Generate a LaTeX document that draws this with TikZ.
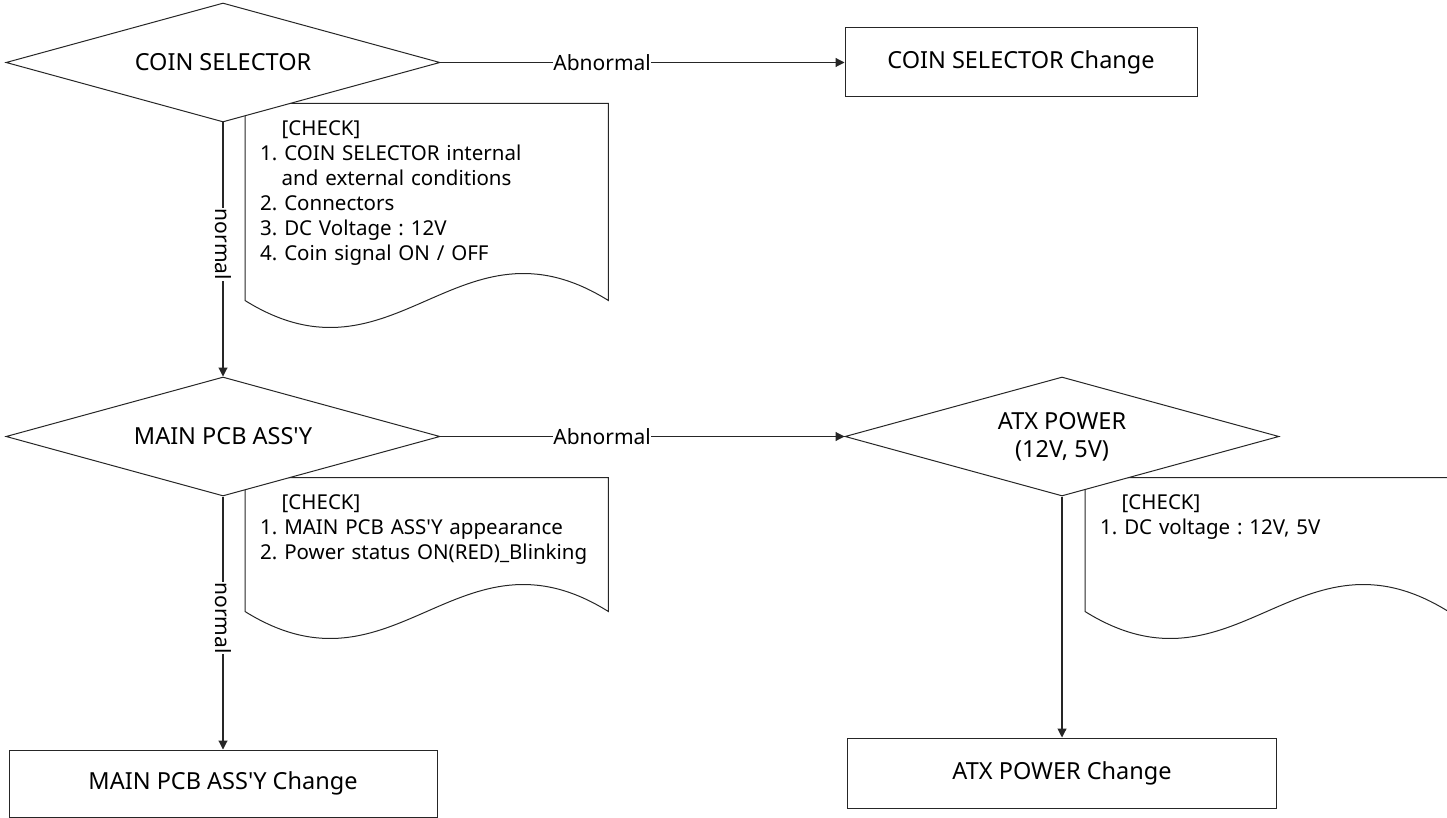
\documentclass[tikz,border=0pt]{standalone}
\usepackage{fontspec}
\setmainfont{Noto Sans}
\usetikzlibrary{shapes.geometric, arrows.meta, positioning, backgrounds}

% outline of a check sheet: node name, side height
\newcommand{\docoutline}[2]{%
  \draw[docline] (#1.north west) -- (#1.north east)
    -- ([yshift=-#2]#1.north east)
    .. controls +(-150pt,93.5pt) and +(150pt,-93.5pt) .. ([yshift=-#2]#1.north west)
    -- cycle;}
\newcommand{\apos}{\textquotesingle}

\begin{document}
\frenchspacing
\begin{tikzpicture}[
  x=1pt, y=1pt,
  decision/.style={diamond, draw=black!85, line width=1pt, fill=white,
                   shape aspect=3.65, minimum width=434pt, minimum height=119pt,
                   inner sep=0pt, align=center, font=\fontsize{23.5}{28}\selectfont},
  chgbox/.style={rectangle, draw=black!85, line width=1pt, fill=white,
                 minimum width=352pt, minimum height=69pt,
                 font=\fontsize{23.5}{28}\selectfont},
  checkdoc/.style={rectangle, anchor=north west, text width=333pt,
                   inner xsep=15pt, inner ysep=17pt, align=left,
                   font=\fontsize{20.5}{25}\selectfont},
  docline/.style={draw=black!85, line width=1pt},
  flow/.style={-{Triangle[length=9pt, width=9pt]}, line width=1.1pt, draw=black!85},
  edgelabel/.style={fill=white, inner sep=0.5pt, font=\fontsize{21}{24}\selectfont}
]
\useasboundingbox (0,0) rectangle (1447,-818);

% decisions and replacements
\node[decision] (coinsel) at (223,-62.5) {COIN SELECTOR};
\node[chgbox, right=404pt of coinsel] (coinchg) {COIN SELECTOR Change};
\node[decision, below=254pt of coinsel] (mainpcb) {MAIN PCB ASS\apos Y};
\node[decision, right=404pt of mainpcb] (atx) {ATX POWER\\(12V, 5V)};
\node[chgbox, minimum width=428pt, minimum height=67pt, below=253pt of mainpcb] (mainchg) {MAIN PCB ASS\apos Y Change};
\node[chgbox, minimum width=429pt, minimum height=70pt, below=241pt of atx] (atxchg) {ATX POWER Change};

% check sheets behind the diamonds
\begin{scope}[on background layer]
\node[checkdoc] (cscheck) at ([shift={(22pt,19pt)}]coinsel.south) {%
  \hspace*{1.05em}[CHECK]\\
  1. COIN SELECTOR internal\\
  \hspace*{1.05em}and external conditions\\
  2. Connectors\\
  3. DC Voltage : 12V\\
  4. Coin signal ON / OFF};
\docoutline{cscheck}{197pt}
\node[checkdoc] (mainchk) at ([shift={(22pt,19pt)}]mainpcb.south) {%
  \hspace*{1.05em}[CHECK]\\
  1. MAIN PCB ASS\apos Y appearance\\
  2. Power status ON(RED)\_Blinking};
\docoutline{mainchk}{134pt}
\node[checkdoc] (atxchk) at ([shift={(23pt,19pt)}]atx.south) {%
  \hspace*{1.05em}[CHECK]\\
  1. DC voltage : 12V, 5V};
\docoutline{atxchk}{134pt}
\end{scope}

\draw[flow] (coinsel.east) -- node[edgelabel, pos=0.4] {Abnormal} (coinchg.west);
\draw[flow] (coinsel.south) -- node[edgelabel, rotate=-90, pos=0.48] {normal} (mainpcb.north);
\draw[flow] (mainpcb.east) -- node[edgelabel, pos=0.4] {Abnormal} (atx.west);
\draw[flow] (mainpcb.south) -- node[edgelabel, rotate=-90, pos=0.48] {normal} (mainchg.north);
\draw[flow] (atx.south) -- (atxchg.north);

\end{tikzpicture}
\end{document}
